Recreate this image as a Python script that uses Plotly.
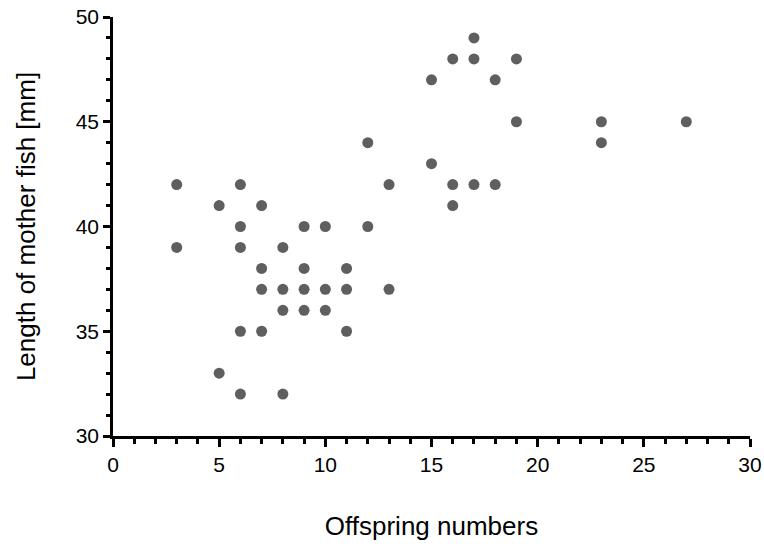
import plotly.graph_objects as go

offspring = [3, 3, 5, 5, 6, 6, 6, 6, 6, 7, 7, 7, 7, 8, 8, 8, 8, 9, 9, 9, 9,
             10, 10, 10, 11, 11, 11, 12, 12, 13, 13, 15, 15, 16, 16, 16,
             17, 17, 17, 18, 18, 19, 19, 23, 23, 27]
length_mm = [42, 39, 41, 33, 42, 40, 39, 35, 32, 41, 38, 37, 35, 39, 37, 36, 32, 40, 38, 37, 36,
             40, 37, 36, 38, 37, 35, 44, 40, 42, 37, 47, 43, 48, 42, 41,
             49, 48, 42, 47, 42, 48, 45, 45, 44, 45]

x_ticks = [0, 5, 10, 15, 20, 25, 30]
y_ticks = [30, 35, 40, 45, 50]

fig = go.Figure(go.Scatter(
    x=offspring, y=length_mm, mode="markers",
    marker=dict(color="#5f5f5f", size=11, line=dict(width=0)),
    hoverinfo="x+y",
    cliponaxis=False,
))

font = dict(family="Liberation Sans, Arial, sans-serif", color="black")

fig.update_layout(
    width=764, height=550,
    margin=dict(l=113, r=14, t=17, b=114),
    plot_bgcolor="white", paper_bgcolor="white",
    showlegend=False,
    font=dict(**font, size=21),
)
fig.update_xaxes(
    range=[0, 30], tickvals=x_ticks, ticktext=[str(v) for v in x_ticks],
    showgrid=False, zeroline=False, automargin=False, ticklabeloverflow="allow",
    showline=True, linecolor="black", linewidth=2.5,
    ticks="outside", ticklen=8, tickwidth=2.5, tickcolor="black",
    tickfont=dict(**font, size=21),
    minor=dict(dtick=1, ticks="outside", ticklen=5, tickwidth=2.5, tickcolor="black", showgrid=False),
    title=dict(text="Offspring numbers", font=dict(**font, size=26), standoff=42),
)
fig.update_yaxes(
    range=[30, 50], tickvals=y_ticks, ticktext=[str(v) for v in y_ticks],
    showgrid=False, zeroline=False, automargin=False, ticklabeloverflow="allow",
    showline=True, linecolor="black", linewidth=2.5,
    ticks="outside", ticklen=7, tickwidth=2.5, tickcolor="black",
    tickfont=dict(**font, size=21),
    minor=dict(dtick=1, ticks="outside", ticklen=4, tickwidth=2.5, tickcolor="black", showgrid=False),
    title=dict(text="Length of mother fish [mm]", font=dict(**font, size=26), standoff=33),
)

fig.write_html("out.html", config={"displayModeBar": False},
               post_script="document.body.style.margin='0';")
